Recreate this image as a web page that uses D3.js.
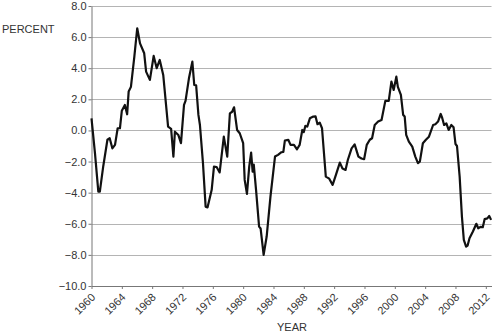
<!DOCTYPE html>
<html>
<head>
<meta charset="utf-8">
<script src="https://cdn.jsdelivr.net/npm/d3@7"></script>
<style>
  body { margin: 0; background: #fff; }
  text { font-family: "Liberation Sans", Arial, sans-serif; }
</style>
</head>
<body>
<div id="chart"></div>
<script>
// readings: year (fractional) and percent
let years = [1960.0, 1960.46, 1960.9, 1961.1, 1961.55, 1962.1, 1962.4, 1962.75, 1963.1, 1963.45, 1963.75,
  1964.0, 1964.4, 1964.7, 1964.9, 1965.2, 1965.65, 1966.03, 1966.4, 1966.95, 1967.2, 1967.7, 1968.2, 1968.6,
  1969.0, 1969.46, 1970.1, 1970.5, 1970.8, 1971.0, 1971.45, 1971.8, 1972.2, 1972.4, 1972.85, 1973.3, 1973.55,
  1973.8, 1974.1, 1974.3, 1974.7, 1975.05, 1975.3, 1975.85, 1976.15, 1976.5, 1976.9, 1977.45, 1977.9, 1978.25,
  1978.55, 1978.8, 1979.2, 1979.55, 1980.0, 1980.2, 1980.5, 1980.8, 1981.05, 1981.25, 1981.4, 1981.7, 1982.1,
  1982.3, 1982.7, 1983.1, 1983.6, 1984.2, 1984.6, 1985.05, 1985.3, 1985.5, 1985.95, 1986.25, 1986.7, 1987.1,
  1987.45, 1987.8, 1988.0, 1988.2, 1988.45, 1988.8, 1989.25, 1989.55, 1989.8, 1990.1, 1990.4, 1990.9, 1991.35,
  1991.8, 1992.2, 1992.75, 1993.1, 1993.5, 1993.8, 1994.3, 1994.7, 1995.2, 1995.6, 1995.95, 1996.3, 1996.7,
  1997.0, 1997.35, 1997.8, 1998.25, 1998.75, 1999.2, 1999.55, 1999.85, 2000.2, 2000.4, 2000.8, 2001.1, 2001.3,
  2001.5, 2001.85, 2002.3, 2002.7, 2003.05, 2003.3, 2003.7, 2004.1, 2004.5, 2005.05, 2005.35, 2005.7, 2006.05,
  2006.25, 2006.5, 2006.8, 2007.1, 2007.45, 2007.75, 2008.0, 2008.2, 2008.55, 2008.85, 2009.1, 2009.4, 2009.6,
  2009.85, 2010.3, 2010.75, 2011.0, 2011.3, 2011.6, 2011.85, 2012.2, 2012.45, 2012.7];

let percent = [0.78, -1.47, -3.93, -3.93, -2.3, -0.6, -0.5, -1.15, -0.93, 0.14, 0.14,
  1.27, 1.64, 1.04, 2.5, 2.8, 4.74, 6.57, 5.6, 4.96, 3.78, 3.25, 4.79, 4.0,
  4.53, 3.57, 0.24, 0.1, -1.68, -0.08, -0.29, -0.82, 1.64, 1.9, 3.35, 4.42, 2.92,
  2.9, 1.0, 0.35, -2.1, -4.9, -4.95, -3.82, -2.33, -2.35, -2.7, -0.4, -1.68, 1.1,
  1.2, 1.49, 0.03, -0.18, -0.82, -3.18, -4.08, -2.33, -1.43, -2.65, -2.2, -3.82, -6.18,
  -6.3, -8.0, -6.82, -4.25, -1.68, -1.57, -1.4, -1.38, -0.65, -0.6, -0.93, -0.93, -1.21,
  -0.93, 0.03, -0.1, 0.29, 0.25, 0.78, 0.89, 0.9, 0.4, 0.5, 0.14, -2.97, -3.1,
  -3.5, -2.9, -2.07, -2.45, -2.54, -1.9, -1.15, -0.9, -1.68, -1.8, -1.85, -0.93, -0.6,
  -0.5, 0.35, 0.57, 0.67, 1.9, 1.9, 3.14, 2.6, 3.46, 2.8, 2.28, 1.0, 0.9,
  -0.29, -0.72, -1.04, -1.68, -2.1, -2.0, -0.82, -0.6, -0.4, 0.35, 0.4, 0.57, 1.06,
  0.8, 0.35, 0.45, 0.03, 0.35, 0.2, -0.87, -1.0, -2.97, -5.54, -7.04, -7.47, -7.4,
  -6.93, -6.5, -6.0, -6.29, -6.2, -6.22, -5.7, -5.65, -5.5, -5.75];

let yTicks = [-10, -8, -6, -4, -2, 0, 2, 4, 6, 8];
let xTicks = [1960, 1964, 1968, 1972, 1976, 1980, 1984, 1988, 1992, 1996, 2000, 2004, 2008, 2012];

let width = 494;
let height = 336;

let x = d3.scaleLinear().domain([1960, 2012.75]).range([91.5, 491.5]);
let y = d3.scaleLinear().domain([-10, 8]).range([286, 6]);

let svg = d3.select('#chart').append('svg')
            .attr('width', width)
            .attr('height', height);

// gridlines
svg.append('g')
   .selectAll('line')
   .data(yTicks.filter(d => d > -10))
   .join('line')
   .attr('x1', x(1960))
   .attr('x2', x(2012.75))
   .attr('y1', d => Math.round(y(d)) + 0.5)
   .attr('y2', d => Math.round(y(d)) + 0.5)
   .attr('stroke', '#b4b4b4')
   .attr('stroke-width', 1.2);

// y axis
let yAxis = svg.append('g')
   .attr('transform', 'translate(' + x(1960) + ',0)')
   .call(d3.axisLeft(y).tickValues(yTicks).tickSize(3).tickSizeOuter(0)
           .tickFormat(d => d3.format('.1f')(d).replace('-', '\u2212')));
yAxis.select('.domain').attr('stroke', '#777');
yAxis.selectAll('.tick line').attr('stroke', '#777');
yAxis.selectAll('.tick text')
     .attr('x', -5)
     .attr('font-size', 11)
     .attr('font-family', '"Liberation Sans", Arial, sans-serif')
     .attr('fill', '#333');

// x axis
let xAxis = svg.append('g')
   .attr('transform', 'translate(0,' + y(-10) + ')')
   .call(d3.axisBottom(x).tickValues(xTicks).tickSize(3).tickSizeOuter(0).tickFormat(d3.format('d')));
xAxis.select('.domain').attr('stroke', '#777');
xAxis.selectAll('.tick line').attr('stroke', '#777');
xAxis.selectAll('.tick text')
     .attr('font-size', 11)
     .attr('font-family', '"Liberation Sans", Arial, sans-serif')
     .attr('fill', '#333')
     .attr('text-anchor', 'end')
     .attr('dy', null)
     .attr('y', 0)
     .attr('transform', 'translate(4,12) rotate(-45)');

// the series
let pts = years.map((d, i) => [d, percent[i]]);
svg.append('path')
   .datum(pts)
   .attr('fill', 'none')
   .attr('stroke', '#111')
   .attr('stroke-width', 2.2)
   .attr('stroke-linejoin', 'round')
   .attr('d', d3.line().x(d => x(d[0])).y(d => y(d[1])));

svg.append('text')
   .attr('x', 2)
   .attr('y', 33)
   .attr('font-size', 11)
   .attr('fill', '#333')
   .text('PERCENT');

svg.append('text')
   .attr('x', 292)
   .attr('y', 331)
   .attr('text-anchor', 'middle')
   .attr('font-size', 11)
   .attr('fill', '#333')
   .text('YEAR');
</script>
</body>
</html>
